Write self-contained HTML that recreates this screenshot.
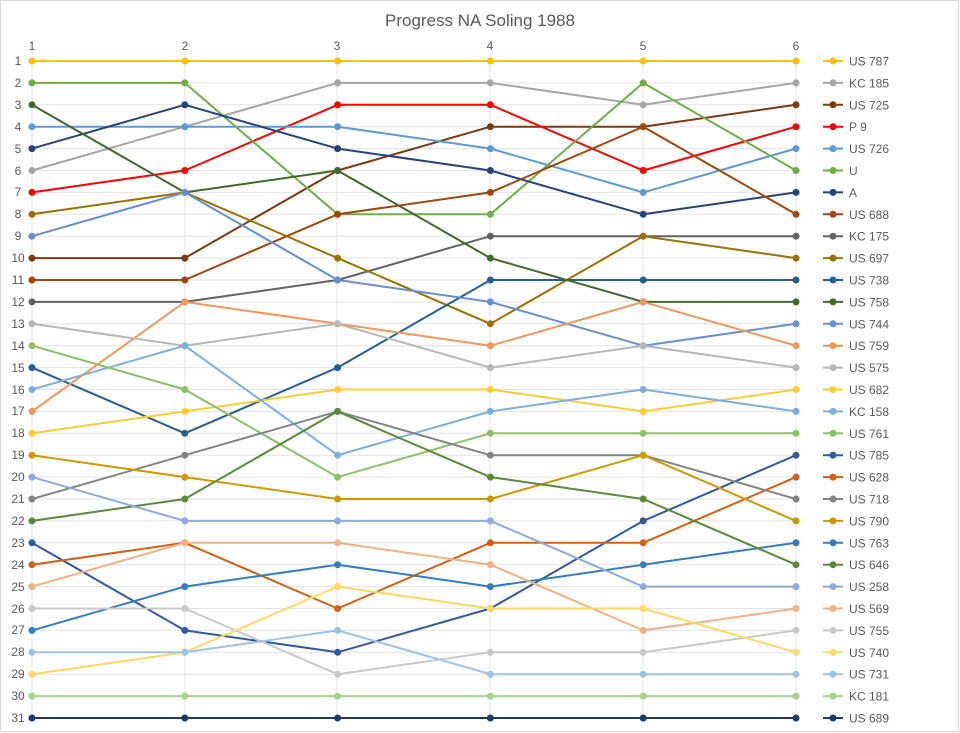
<!DOCTYPE html>
<html><head><meta charset="utf-8"><style>
html,body{margin:0;padding:0;background:#fff}
svg{display:block;font-family:"Liberation Sans",sans-serif}
</style></head><body>
<svg width="960" height="733" viewBox="0 0 960 733" xmlns="http://www.w3.org/2000/svg">
<rect x="0.5" y="0.5" width="958" height="731" fill="#fff" stroke="#D9D9D9"/>
<text x="480" y="26" font-size="17" fill="#595959" text-anchor="middle">Progress NA Soling 1988</text>
<g stroke="#E3E3E3" stroke-width="1">
<path d="M32 52V722M185 52V722M337 52V722M490 52V722M643 52V722M796 52V722"/>
<path d="M28 61H800M28 82.9H800M28 104.8H800M28 126.7H800M28 148.6H800M28 170.5H800M28 192.4H800M28 214.3H800M28 236.2H800M28 258.1H800M28 280H800M28 301.9H800M28 323.8H800M28 345.7H800M28 367.6H800M28 389.5H800M28 411.4H800M28 433.3H800M28 455.2H800M28 477.1H800M28 499H800M28 520.9H800M28 542.8H800M28 564.7H800M28 586.6H800M28 608.5H800M28 630.4H800M28 652.3H800M28 674.2H800M28 696.1H800M28 718H800"/>
</g>
<g font-size="12" fill="#595959" text-anchor="middle">
<text x="32" y="50">1</text><text x="185" y="50">2</text><text x="337" y="50">3</text><text x="490" y="50">4</text><text x="643" y="50">5</text><text x="796" y="50">6</text>
<text x="18" y="65">1</text><text x="18" y="87">2</text><text x="18" y="109">3</text><text x="18" y="131">4</text><text x="18" y="153">5</text><text x="18" y="175">6</text><text x="18" y="196">7</text><text x="18" y="218">8</text><text x="18" y="240">9</text><text x="18" y="262">10</text><text x="18" y="284">11</text><text x="18" y="306">12</text><text x="18" y="328">13</text><text x="18" y="350">14</text><text x="18" y="372">15</text><text x="18" y="394">16</text><text x="18" y="415">17</text><text x="18" y="437">18</text><text x="18" y="459">19</text><text x="18" y="481">20</text><text x="18" y="503">21</text><text x="18" y="525">22</text><text x="18" y="547">23</text><text x="18" y="569">24</text><text x="18" y="591">25</text><text x="18" y="613">26</text><text x="18" y="634">27</text><text x="18" y="656">28</text><text x="18" y="678">29</text><text x="18" y="700">30</text><text x="18" y="722">31</text>
</g>
<g transform="translate(-120.8,39.1) scale(152.8,21.9)" fill="none" stroke-linejoin="round">
<g id="s" stroke-width="2" vector-effect="non-scaling-stroke">
</g>
</g>
<defs><style>
.l{fill:none;stroke-width:2;vector-effect:non-scaling-stroke;stroke-linejoin:round}
.d{fill:none;stroke-width:7;stroke-linecap:round;vector-effect:non-scaling-stroke}
</style></defs>
<g transform="translate(-120.8,39.1) scale(152.8,21.9)">
<g stroke="#FFC000"><polyline class="l" points="1,1 2,1 3,1 4,1 5,1 6,1"/><path class="d" d="M1 1h0M2 1h0M3 1h0M4 1h0M5 1h0M6 1h0"/></g>
<g stroke="#A5A5A5"><polyline class="l" points="1,6 2,4 3,2 4,2 5,3 6,2"/><path class="d" d="M1 6h0M2 4h0M3 2h0M4 2h0M5 3h0M6 2h0"/></g>
<g stroke="#7B3A10"><polyline class="l" points="1,10 2,10 3,6 4,4 5,4 6,3"/><path class="d" d="M1 10h0M2 10h0M3 6h0M4 4h0M5 4h0M6 3h0"/></g>
<g stroke="#FF0000"><polyline class="l" points="1,7 2,6 3,3 4,3 5,6 6,4"/><path class="d" d="M1 7h0M2 6h0M3 3h0M4 3h0M5 6h0M6 4h0"/></g>
<g stroke="#5B9BD5"><polyline class="l" points="1,4 2,4 3,4 4,5 5,7 6,5"/><path class="d" d="M1 4h0M2 4h0M3 4h0M4 5h0M5 7h0M6 5h0"/></g>
<g stroke="#70AD47"><polyline class="l" points="1,2 2,2 3,8 4,8 5,2 6,6"/><path class="d" d="M1 2h0M2 2h0M3 8h0M4 8h0M5 2h0M6 6h0"/></g>
<g stroke="#264478"><polyline class="l" points="1,5 2,3 3,5 4,6 5,8 6,7"/><path class="d" d="M1 5h0M2 3h0M3 5h0M4 6h0M5 8h0M6 7h0"/></g>
<g stroke="#9E480E"><polyline class="l" points="1,11 2,11 3,8 4,7 5,4 6,8"/><path class="d" d="M1 11h0M2 11h0M3 8h0M4 7h0M5 4h0M6 8h0"/></g>
<g stroke="#636363"><polyline class="l" points="1,12 2,12 3,11 4,9 5,9 6,9"/><path class="d" d="M1 12h0M2 12h0M3 11h0M4 9h0M5 9h0M6 9h0"/></g>
<g stroke="#997300"><polyline class="l" points="1,8 2,7 3,10 4,13 5,9 6,10"/><path class="d" d="M1 8h0M2 7h0M3 10h0M4 13h0M5 9h0M6 10h0"/></g>
<g stroke="#255E91"><polyline class="l" points="1,15 2,18 3,15 4,11 5,11 6,11"/><path class="d" d="M1 15h0M2 18h0M3 15h0M4 11h0M5 11h0M6 11h0"/></g>
<g stroke="#43682B"><polyline class="l" points="1,3 2,7 3,6 4,10 5,12 6,12"/><path class="d" d="M1 3h0M2 7h0M3 6h0M4 10h0M5 12h0M6 12h0"/></g>
<g stroke="#698ED0"><polyline class="l" points="1,9 2,7 3,11 4,12 5,14 6,13"/><path class="d" d="M1 9h0M2 7h0M3 11h0M4 12h0M5 14h0M6 13h0"/></g>
<g stroke="#F1975A"><polyline class="l" points="1,17 2,12 3,13 4,14 5,12 6,14"/><path class="d" d="M1 17h0M2 12h0M3 13h0M4 14h0M5 12h0M6 14h0"/></g>
<g stroke="#B7B7B7"><polyline class="l" points="1,13 2,14 3,13 4,15 5,14 6,15"/><path class="d" d="M1 13h0M2 14h0M3 13h0M4 15h0M5 14h0M6 15h0"/></g>
<g stroke="#FFCD33"><polyline class="l" points="1,18 2,17 3,16 4,16 5,17 6,16"/><path class="d" d="M1 18h0M2 17h0M3 16h0M4 16h0M5 17h0M6 16h0"/></g>
<g stroke="#7CAFDD"><polyline class="l" points="1,16 2,14 3,19 4,17 5,16 6,17"/><path class="d" d="M1 16h0M2 14h0M3 19h0M4 17h0M5 16h0M6 17h0"/></g>
<g stroke="#8CC168"><polyline class="l" points="1,14 2,16 3,20 4,18 5,18 6,18"/><path class="d" d="M1 14h0M2 16h0M3 20h0M4 18h0M5 18h0M6 18h0"/></g>
<g stroke="#335AA1"><polyline class="l" points="1,23 2,27 3,28 4,26 5,22 6,19"/><path class="d" d="M1 23h0M2 27h0M3 28h0M4 26h0M5 22h0M6 19h0"/></g>
<g stroke="#D26012"><polyline class="l" points="1,24 2,23 3,26 4,23 5,23 6,20"/><path class="d" d="M1 24h0M2 23h0M3 26h0M4 23h0M5 23h0M6 20h0"/></g>
<g stroke="#848484"><polyline class="l" points="1,21 2,19 3,17 4,19 5,19 6,21"/><path class="d" d="M1 21h0M2 19h0M3 17h0M4 19h0M5 19h0M6 21h0"/></g>
<g stroke="#CC9A00"><polyline class="l" points="1,19 2,20 3,21 4,21 5,19 6,22"/><path class="d" d="M1 19h0M2 20h0M3 21h0M4 21h0M5 19h0M6 22h0"/></g>
<g stroke="#327DC2"><polyline class="l" points="1,27 2,25 3,24 4,25 5,24 6,23"/><path class="d" d="M1 27h0M2 25h0M3 24h0M4 25h0M5 24h0M6 23h0"/></g>
<g stroke="#5A8A39"><polyline class="l" points="1,22 2,21 3,17 4,20 5,21 6,24"/><path class="d" d="M1 22h0M2 21h0M3 17h0M4 20h0M5 21h0M6 24h0"/></g>
<g stroke="#8FAADC"><polyline class="l" points="1,20 2,22 3,22 4,22 5,25 6,25"/><path class="d" d="M1 20h0M2 22h0M3 22h0M4 22h0M5 25h0M6 25h0"/></g>
<g stroke="#F4B183"><polyline class="l" points="1,25 2,23 3,23 4,24 5,27 6,26"/><path class="d" d="M1 25h0M2 23h0M3 23h0M4 24h0M5 27h0M6 26h0"/></g>
<g stroke="#C9C9C9"><polyline class="l" points="1,26 2,26 3,29 4,28 5,28 6,27"/><path class="d" d="M1 26h0M2 26h0M3 29h0M4 28h0M5 28h0M6 27h0"/></g>
<g stroke="#FFD966"><polyline class="l" points="1,29 2,28 3,25 4,26 5,26 6,28"/><path class="d" d="M1 29h0M2 28h0M3 25h0M4 26h0M5 26h0M6 28h0"/></g>
<g stroke="#9DC3E6"><polyline class="l" points="1,28 2,28 3,27 4,29 5,29 6,29"/><path class="d" d="M1 28h0M2 28h0M3 27h0M4 29h0M5 29h0M6 29h0"/></g>
<g stroke="#A9D18E"><polyline class="l" points="1,30 2,30 3,30 4,30 5,30 6,30"/><path class="d" d="M1 30h0M2 30h0M3 30h0M4 30h0M5 30h0M6 30h0"/></g>
<g stroke="#203864"><polyline class="l" points="1,31 2,31 3,31 4,31 5,31 6,31"/><path class="d" d="M1 31h0M2 31h0M3 31h0M4 31h0M5 31h0M6 31h0"/></g>
</g>
<g stroke-width="2">
<g stroke="#FFC000"><path d="M823 61H843"/><circle cx="833" cy="61" r="3.5" fill="#FFC000" stroke="none"/></g>
<g stroke="#A5A5A5"><path d="M823 82.9H843"/><circle cx="833" cy="82.9" r="3.5" fill="#A5A5A5" stroke="none"/></g>
<g stroke="#7B3A10"><path d="M823 104.8H843"/><circle cx="833" cy="104.8" r="3.5" fill="#7B3A10" stroke="none"/></g>
<g stroke="#FF0000"><path d="M823 126.7H843"/><circle cx="833" cy="126.7" r="3.5" fill="#FF0000" stroke="none"/></g>
<g stroke="#5B9BD5"><path d="M823 148.6H843"/><circle cx="833" cy="148.6" r="3.5" fill="#5B9BD5" stroke="none"/></g>
<g stroke="#70AD47"><path d="M823 170.5H843"/><circle cx="833" cy="170.5" r="3.5" fill="#70AD47" stroke="none"/></g>
<g stroke="#264478"><path d="M823 192.4H843"/><circle cx="833" cy="192.4" r="3.5" fill="#264478" stroke="none"/></g>
<g stroke="#9E480E"><path d="M823 214.3H843"/><circle cx="833" cy="214.3" r="3.5" fill="#9E480E" stroke="none"/></g>
<g stroke="#636363"><path d="M823 236.2H843"/><circle cx="833" cy="236.2" r="3.5" fill="#636363" stroke="none"/></g>
<g stroke="#997300"><path d="M823 258.1H843"/><circle cx="833" cy="258.1" r="3.5" fill="#997300" stroke="none"/></g>
<g stroke="#255E91"><path d="M823 280H843"/><circle cx="833" cy="280" r="3.5" fill="#255E91" stroke="none"/></g>
<g stroke="#43682B"><path d="M823 301.9H843"/><circle cx="833" cy="301.9" r="3.5" fill="#43682B" stroke="none"/></g>
<g stroke="#698ED0"><path d="M823 323.8H843"/><circle cx="833" cy="323.8" r="3.5" fill="#698ED0" stroke="none"/></g>
<g stroke="#F1975A"><path d="M823 345.7H843"/><circle cx="833" cy="345.7" r="3.5" fill="#F1975A" stroke="none"/></g>
<g stroke="#B7B7B7"><path d="M823 367.6H843"/><circle cx="833" cy="367.6" r="3.5" fill="#B7B7B7" stroke="none"/></g>
<g stroke="#FFCD33"><path d="M823 389.5H843"/><circle cx="833" cy="389.5" r="3.5" fill="#FFCD33" stroke="none"/></g>
<g stroke="#7CAFDD"><path d="M823 411.4H843"/><circle cx="833" cy="411.4" r="3.5" fill="#7CAFDD" stroke="none"/></g>
<g stroke="#8CC168"><path d="M823 433.3H843"/><circle cx="833" cy="433.3" r="3.5" fill="#8CC168" stroke="none"/></g>
<g stroke="#335AA1"><path d="M823 455.2H843"/><circle cx="833" cy="455.2" r="3.5" fill="#335AA1" stroke="none"/></g>
<g stroke="#D26012"><path d="M823 477.1H843"/><circle cx="833" cy="477.1" r="3.5" fill="#D26012" stroke="none"/></g>
<g stroke="#848484"><path d="M823 499H843"/><circle cx="833" cy="499" r="3.5" fill="#848484" stroke="none"/></g>
<g stroke="#CC9A00"><path d="M823 520.9H843"/><circle cx="833" cy="520.9" r="3.5" fill="#CC9A00" stroke="none"/></g>
<g stroke="#327DC2"><path d="M823 542.8H843"/><circle cx="833" cy="542.8" r="3.5" fill="#327DC2" stroke="none"/></g>
<g stroke="#5A8A39"><path d="M823 564.7H843"/><circle cx="833" cy="564.7" r="3.5" fill="#5A8A39" stroke="none"/></g>
<g stroke="#8FAADC"><path d="M823 586.6H843"/><circle cx="833" cy="586.6" r="3.5" fill="#8FAADC" stroke="none"/></g>
<g stroke="#F4B183"><path d="M823 608.5H843"/><circle cx="833" cy="608.5" r="3.5" fill="#F4B183" stroke="none"/></g>
<g stroke="#C9C9C9"><path d="M823 630.4H843"/><circle cx="833" cy="630.4" r="3.5" fill="#C9C9C9" stroke="none"/></g>
<g stroke="#FFD966"><path d="M823 652.3H843"/><circle cx="833" cy="652.3" r="3.5" fill="#FFD966" stroke="none"/></g>
<g stroke="#9DC3E6"><path d="M823 674.2H843"/><circle cx="833" cy="674.2" r="3.5" fill="#9DC3E6" stroke="none"/></g>
<g stroke="#A9D18E"><path d="M823 696.1H843"/><circle cx="833" cy="696.1" r="3.5" fill="#A9D18E" stroke="none"/></g>
<g stroke="#203864"><path d="M823 718H843"/><circle cx="833" cy="718" r="3.5" fill="#203864" stroke="none"/></g>
</g>
<g font-size="12" fill="#595959">
<text x="849" y="65.5">US 787</text><text x="849" y="87.4">KC 185</text><text x="849" y="109.3">US 725</text><text x="849" y="131.2">P 9</text><text x="849" y="153.1">US 726</text><text x="849" y="175">U</text><text x="849" y="196.9">A</text><text x="849" y="218.8">US 688</text><text x="849" y="240.7">KC 175</text><text x="849" y="262.6">US 697</text><text x="849" y="284.5">US 738</text><text x="849" y="306.4">US 758</text><text x="849" y="328.3">US 744</text><text x="849" y="350.2">US 759</text><text x="849" y="372.1">US 575</text><text x="849" y="394">US 682</text><text x="849" y="415.9">KC 158</text><text x="849" y="437.8">US 761</text><text x="849" y="459.7">US 785</text><text x="849" y="481.6">US 628</text><text x="849" y="503.5">US 718</text><text x="849" y="525.4">US 790</text><text x="849" y="547.3">US 763</text><text x="849" y="569.2">US 646</text><text x="849" y="591.1">US 258</text><text x="849" y="613">US 569</text><text x="849" y="634.9">US 755</text><text x="849" y="656.8">US 740</text><text x="849" y="678.7">US 731</text><text x="849" y="700.6">KC 181</text><text x="849" y="722.5">US 689</text>
</g>
</svg>
</body></html>
